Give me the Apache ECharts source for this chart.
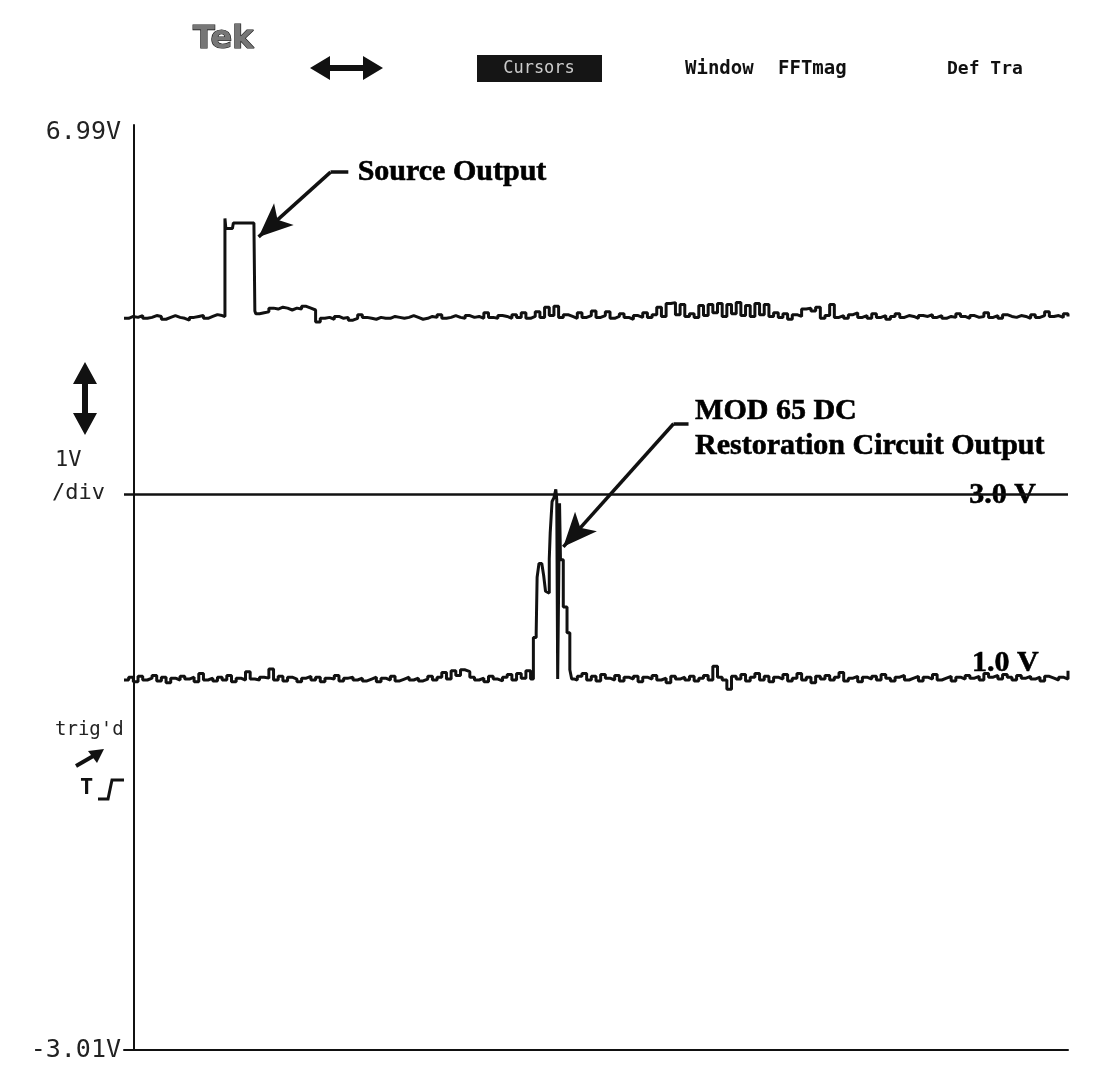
<!DOCTYPE html>
<html>
<head>
<meta charset="utf-8">
<title>Source Output / MOD 65 DC Restoration Circuit Output</title>
<script src="https://cdn.jsdelivr.net/npm/echarts@6/dist/echarts.min.js"></script>
<style>
html,body{margin:0;padding:0;background:#fff;}
#chart{width:1118px;height:1078px;}
</style>
</head>
<body>
<div id="chart"></div>
<script>
// horizontal axis is in scope divisions, one sample every 0.05 div from -0.1
var sampleStart = -0.1;
var sampleStep = 0.05;
var yTickValues = [6.99, -3.01];
var cursorLevel = 3.0;

// channel 1 : source output (V)
var ch1Volts = [
  4.90,4.92,4.91,4.93,4.90,4.91,4.93,4.92,4.89,4.91,
  4.93,4.91,4.90,4.88,4.91,4.92,4.93,4.90,4.92,4.94,
  4.93,4.92,
  5.87,5.93,5.93,5.93,5.93,5.93,4.96,
  4.96,4.97,5.01,5.00,5.02,5.01,4.99,5.01,5.00,5.03,5.01,4.99,
  4.86,4.90,4.91,4.89,4.92,4.90,4.91,4.88,4.90,4.94,
  4.91,4.90,4.89,4.91,4.90,4.90,4.92,4.91,4.90,4.91,
  4.93,4.91,4.89,4.90,4.92,4.91,4.94,4.90,4.91,4.93,
  4.91,4.90,4.93,4.91,4.92,4.90,4.96,4.91,4.90,4.93,
  4.92,4.90,4.94,4.91,4.96,4.90,4.92,4.97,4.91,5.02,
  4.93,5.03,4.91,4.94,4.92,4.90,4.96,4.91,4.93,4.98,
  4.91,4.93,4.97,4.90,4.92,4.95,4.91,4.89,4.93,4.91,
  4.96,4.91,4.94,5.02,4.92,5.06,5.07,4.94,5.05,4.92,
  4.95,4.91,5.04,4.93,5.05,4.96,5.06,4.92,5.05,4.95,
  5.07,4.93,5.04,4.92,5.06,4.94,5.05,4.92,4.96,4.91,
  4.95,4.89,4.94,4.92,5.00,5.01,4.98,5.02,4.90,4.93,
  5.05,4.91,4.93,4.90,4.94,4.96,4.91,4.93,4.90,4.95,
  4.91,4.93,4.89,4.92,4.95,4.91,4.93,4.92,4.90,4.93,
  4.92,4.94,4.91,4.93,4.90,4.92,4.91,4.95,4.92,4.90,
  4.93,4.91,4.92,4.96,4.91,4.93,4.90,4.94,4.92,4.91,
  4.93,4.92,4.90,4.94,4.91,4.93,4.97,4.92,4.93,4.91,4.95,4.92
];
// fine detail of the source pulse
var ch1PulseT = [0.97, 0.98, 0.99, 1.06, 1.07, 1.29, 1.30, 1.31];
var ch1PulseV = [4.92, 5.98, 5.87, 5.87, 5.93, 5.93, 4.98, 4.95];

// channel 2 : DC restoration circuit output (V)
var ch2Volts = [
  0.99,1.02,0.97,1.03,0.99,1.01,1.04,0.98,1.02,0.96,
  1.01,0.99,1.03,1.00,1.02,0.97,1.06,0.99,1.01,0.98,
  1.02,0.99,1.04,0.97,1.01,0.99,1.08,1.00,0.99,1.02,
  1.01,1.11,0.99,1.03,0.98,1.02,1.00,0.97,1.01,1.03,
  0.99,1.02,0.97,1.01,1.00,1.04,0.98,1.01,1.02,0.99,
  1.01,0.98,1.00,1.02,0.97,1.01,0.99,1.03,0.98,1.00,
  1.02,0.99,1.01,0.98,1.00,1.03,0.99,1.02,1.07,1.00,
  1.09,1.04,1.10,1.08,1.02,0.99,1.01,0.97,1.03,1.00,
  0.98,1.02,1.05,0.99,1.06,1.01,1.09,1.00,1.45,2.25,
  1.95,2.58,2.95,2.94,2.29,1.78,1.10,1.03,1.06,0.99,
  1.03,0.98,1.05,1.01,0.99,1.04,0.98,1.02,1.00,1.03,
  0.97,1.02,1.00,1.04,0.99,1.01,0.96,1.03,1.00,1.02,
  0.99,1.03,0.98,1.01,1.04,0.99,1.14,1.02,0.99,0.89,
  1.03,1.00,1.05,0.98,1.02,1.06,0.99,1.03,0.97,1.02,
  1.00,1.05,0.98,1.01,1.06,0.99,1.02,0.96,1.03,1.00,
  1.04,0.99,1.02,1.07,0.98,1.01,1.03,0.97,1.02,1.00,
  1.03,0.99,1.05,1.01,0.98,1.02,1.04,0.99,1.01,1.03,
  0.98,1.02,1.00,1.05,0.99,1.01,1.03,0.98,1.02,1.00,
  1.04,1.01,1.03,0.99,1.06,1.02,1.04,1.00,1.05,1.02,
  0.99,1.04,1.01,1.03,1.00,1.02,0.98,1.03,1.01,0.99,1.02,1.00,1.09
];
// fine detail of the restored pulse
var ch2PulseT = [4.27,4.28,4.31,4.32,4.34,4.37,4.39,4.41,4.43,4.45,4.46,4.48,4.50,4.52,4.53,4.54,4.56,4.57,4.60,4.64,4.67,4.69,4.72];
var ch2PulseV = [1.00,1.45,1.50,2.10,2.25,2.25,2.12,1.95,1.93,2.30,2.58,2.92,2.96,3.05,2.94,1.00,2.90,2.29,1.78,1.50,1.10,1.00,0.99];

function buildTrace(volts, pulseT, pulseV) {
  var lo = pulseT[0], hi = pulseT[pulseT.length - 1];
  var pts = [];
  volts.forEach(function (v, i) {
    var t = +(sampleStart + i * sampleStep).toFixed(3);
    if (t < lo || t > hi) pts.push([t, v]);
  });
  pulseT.forEach(function (t, i) { pts.push([t, pulseV[i]]); });
  pts.sort(function (a, b) { return a[0] - b[0]; });
  return pts;
}

var ink = '#000';
var serifBold = {
  fontFamily: 'Liberation Serif', fontWeight: 'bold', fontSize: 30, color: ink, opacity: 1,
  textBorderColor: ink, textBorderWidth: 0.6
};

var chart = echarts.init(document.getElementById('chart'));
var option = {
  backgroundColor: '#fff',
  animation: false,
  grid: { left: 124, right: 50, top: 125, bottom: 28 },
  xAxis: {
    type: 'value', min: -0.1, max: 10,
    axisLine: { show: true, onZero: false, lineStyle: { color: '#111', width: 2 } },
    axisTick: { show: false }, axisLabel: { show: false }, splitLine: { show: false }
  },
  yAxis: {
    type: 'value', min: -3.01, max: 6.99,
    axisLine: { show: true, onZero: true, lineStyle: { color: '#111', width: 2 } },
    axisTick: { show: false },
    axisLabel: {
      customValues: yTickValues, margin: 3,
      fontFamily: 'DejaVu Sans Mono', fontSize: 25, color: '#222',
      formatter: function (v) {
        var s = v.toFixed(2) + 'V';
        return v > 0 ? '{hi|' + s + '}' : s;
      },
      rich: { hi: { padding: [14, 0, 0, 0], fontFamily: 'DejaVu Sans Mono', fontSize: 25, color: '#222' } }
    },
    splitLine: { show: false }
  },
  series: [
    {
      name: 'Source Output', type: 'line', step: 'end', showSymbol: false,
      data: buildTrace(ch1Volts, ch1PulseT, ch1PulseV),
      lineStyle: { color: '#111', width: 3 }
    },
    {
      name: 'Restoration Circuit Output', type: 'line', step: 'end', showSymbol: false,
      data: buildTrace(ch2Volts, ch2PulseT, ch2PulseV),
      lineStyle: { color: '#111', width: 3 }
    },
    {
      name: 'notes', type: 'scatter', symbolSize: 0, silent: true,
      itemStyle: { opacity: 1 },
      label: { show: true, position: 'right', distance: 0, formatter: '{@[2]}' },
      labelLayout: { hideOverlap: false },
      data: [
        { value: [2.40, 6.48, 'Source Output'], label: serifBold },
        { value: [6.01, 3.90, 'MOD 65 DC'], label: serifBold },
        { value: [6.01, 3.52, 'Restoration Circuit Output'], label: serifBold },
        { value: [9.30, 2.99, '3.0 V'], label: Object.assign({ position: 'inside' }, serifBold) },
        { value: [9.33, 1.17, '1.0 V'], label: Object.assign({ position: 'inside' }, serifBold) }
      ],
      markLine: {
        silent: true, symbol: ['none', 'none'], label: { show: false },
        lineStyle: { color: '#111', type: 'solid', width: 2.5, opacity: 1 },
        data: [
          [{ coord: [-0.1, cursorLevel] }, { coord: [10, cursorLevel] }],
          [{ coord: [2.30, 6.48], lineStyle: { width: 3.5 } }, { coord: [2.11, 6.48] }],
          [{ coord: [2.11, 6.48], lineStyle: { width: 3.5 } }, { coord: [1.34, 5.78], symbol: 'arrow', symbolSize: [22, 34] }],
          [{ coord: [5.94, 3.76], lineStyle: { width: 3.5 } }, { coord: [5.78, 3.76] }],
          [{ coord: [5.78, 3.76], lineStyle: { width: 3.5 } }, { coord: [4.60, 2.43], symbol: 'arrow', symbolSize: [22, 34] }]
        ]
      }
    }
  ],
  graphic: [
    { type: 'text', x: 193, y: 24, style: { text: 'Tek', font: 'bold 32px DejaVu Sans', fill: '#777', stroke: '#111', lineWidth: 1.2 } },
    { type: 'polygon', shape: { points: [[310,68],[330,56],[330,65],[363,65],[363,56],[383,68],[363,80],[363,71],[330,71],[330,80]] }, style: { fill: '#111' } },
    { type: 'rect', shape: { x: 477, y: 55, width: 125, height: 27 }, style: { fill: '#151515' } },
    { type: 'text', x: 539, y: 69, style: { text: 'Cursors', font: '17px DejaVu Sans Mono', fill: '#ccc', align: 'center', verticalAlign: 'middle' } },
    { type: 'text', x: 685, y: 69, style: { text: 'Window', font: 'bold 19px DejaVu Sans Mono', fill: '#111', verticalAlign: 'middle' } },
    { type: 'text', x: 778, y: 69, style: { text: 'FFTmag', font: 'bold 19px DejaVu Sans Mono', fill: '#111', verticalAlign: 'middle' } },
    { type: 'text', x: 947, y: 69, style: { text: 'Def Tra', font: 'bold 18px DejaVu Sans Mono', fill: '#111', verticalAlign: 'middle' } },
    { type: 'polygon', shape: { points: [[85,362],[97,384],[88,384],[88,413],[97,413],[85,435],[73,413],[82,413],[82,384],[73,384]] }, style: { fill: '#111' } },
    { type: 'text', x: 55, y: 460, style: { text: '1V', font: '22px DejaVu Sans Mono', fill: '#222', verticalAlign: 'middle' } },
    { type: 'text', x: 52, y: 493, style: { text: '/div', font: '22px DejaVu Sans Mono', fill: '#222', verticalAlign: 'middle' } },
    { type: 'text', x: 55, y: 730, style: { text: "trig'd", font: '19px DejaVu Sans Mono', fill: '#222', verticalAlign: 'middle' } },
    { type: 'line', shape: { x1: 76, y1: 766, x2: 95, y2: 755 }, style: { stroke: '#111', lineWidth: 4 } },
    { type: 'polygon', shape: { points: [[104,749],[88,751],[97,763]] }, style: { fill: '#111' } },
    { type: 'text', x: 80, y: 788, style: { text: 'T', font: 'bold 22px DejaVu Sans Mono', fill: '#111', verticalAlign: 'middle' } },
    { type: 'polyline', shape: { points: [[98,799],[108,799],[112,780],[124,780]] }, style: { stroke: '#111', lineWidth: 3, fill: null } }
  ]
};
chart.setOption(option);
</script>
</body>
</html>
